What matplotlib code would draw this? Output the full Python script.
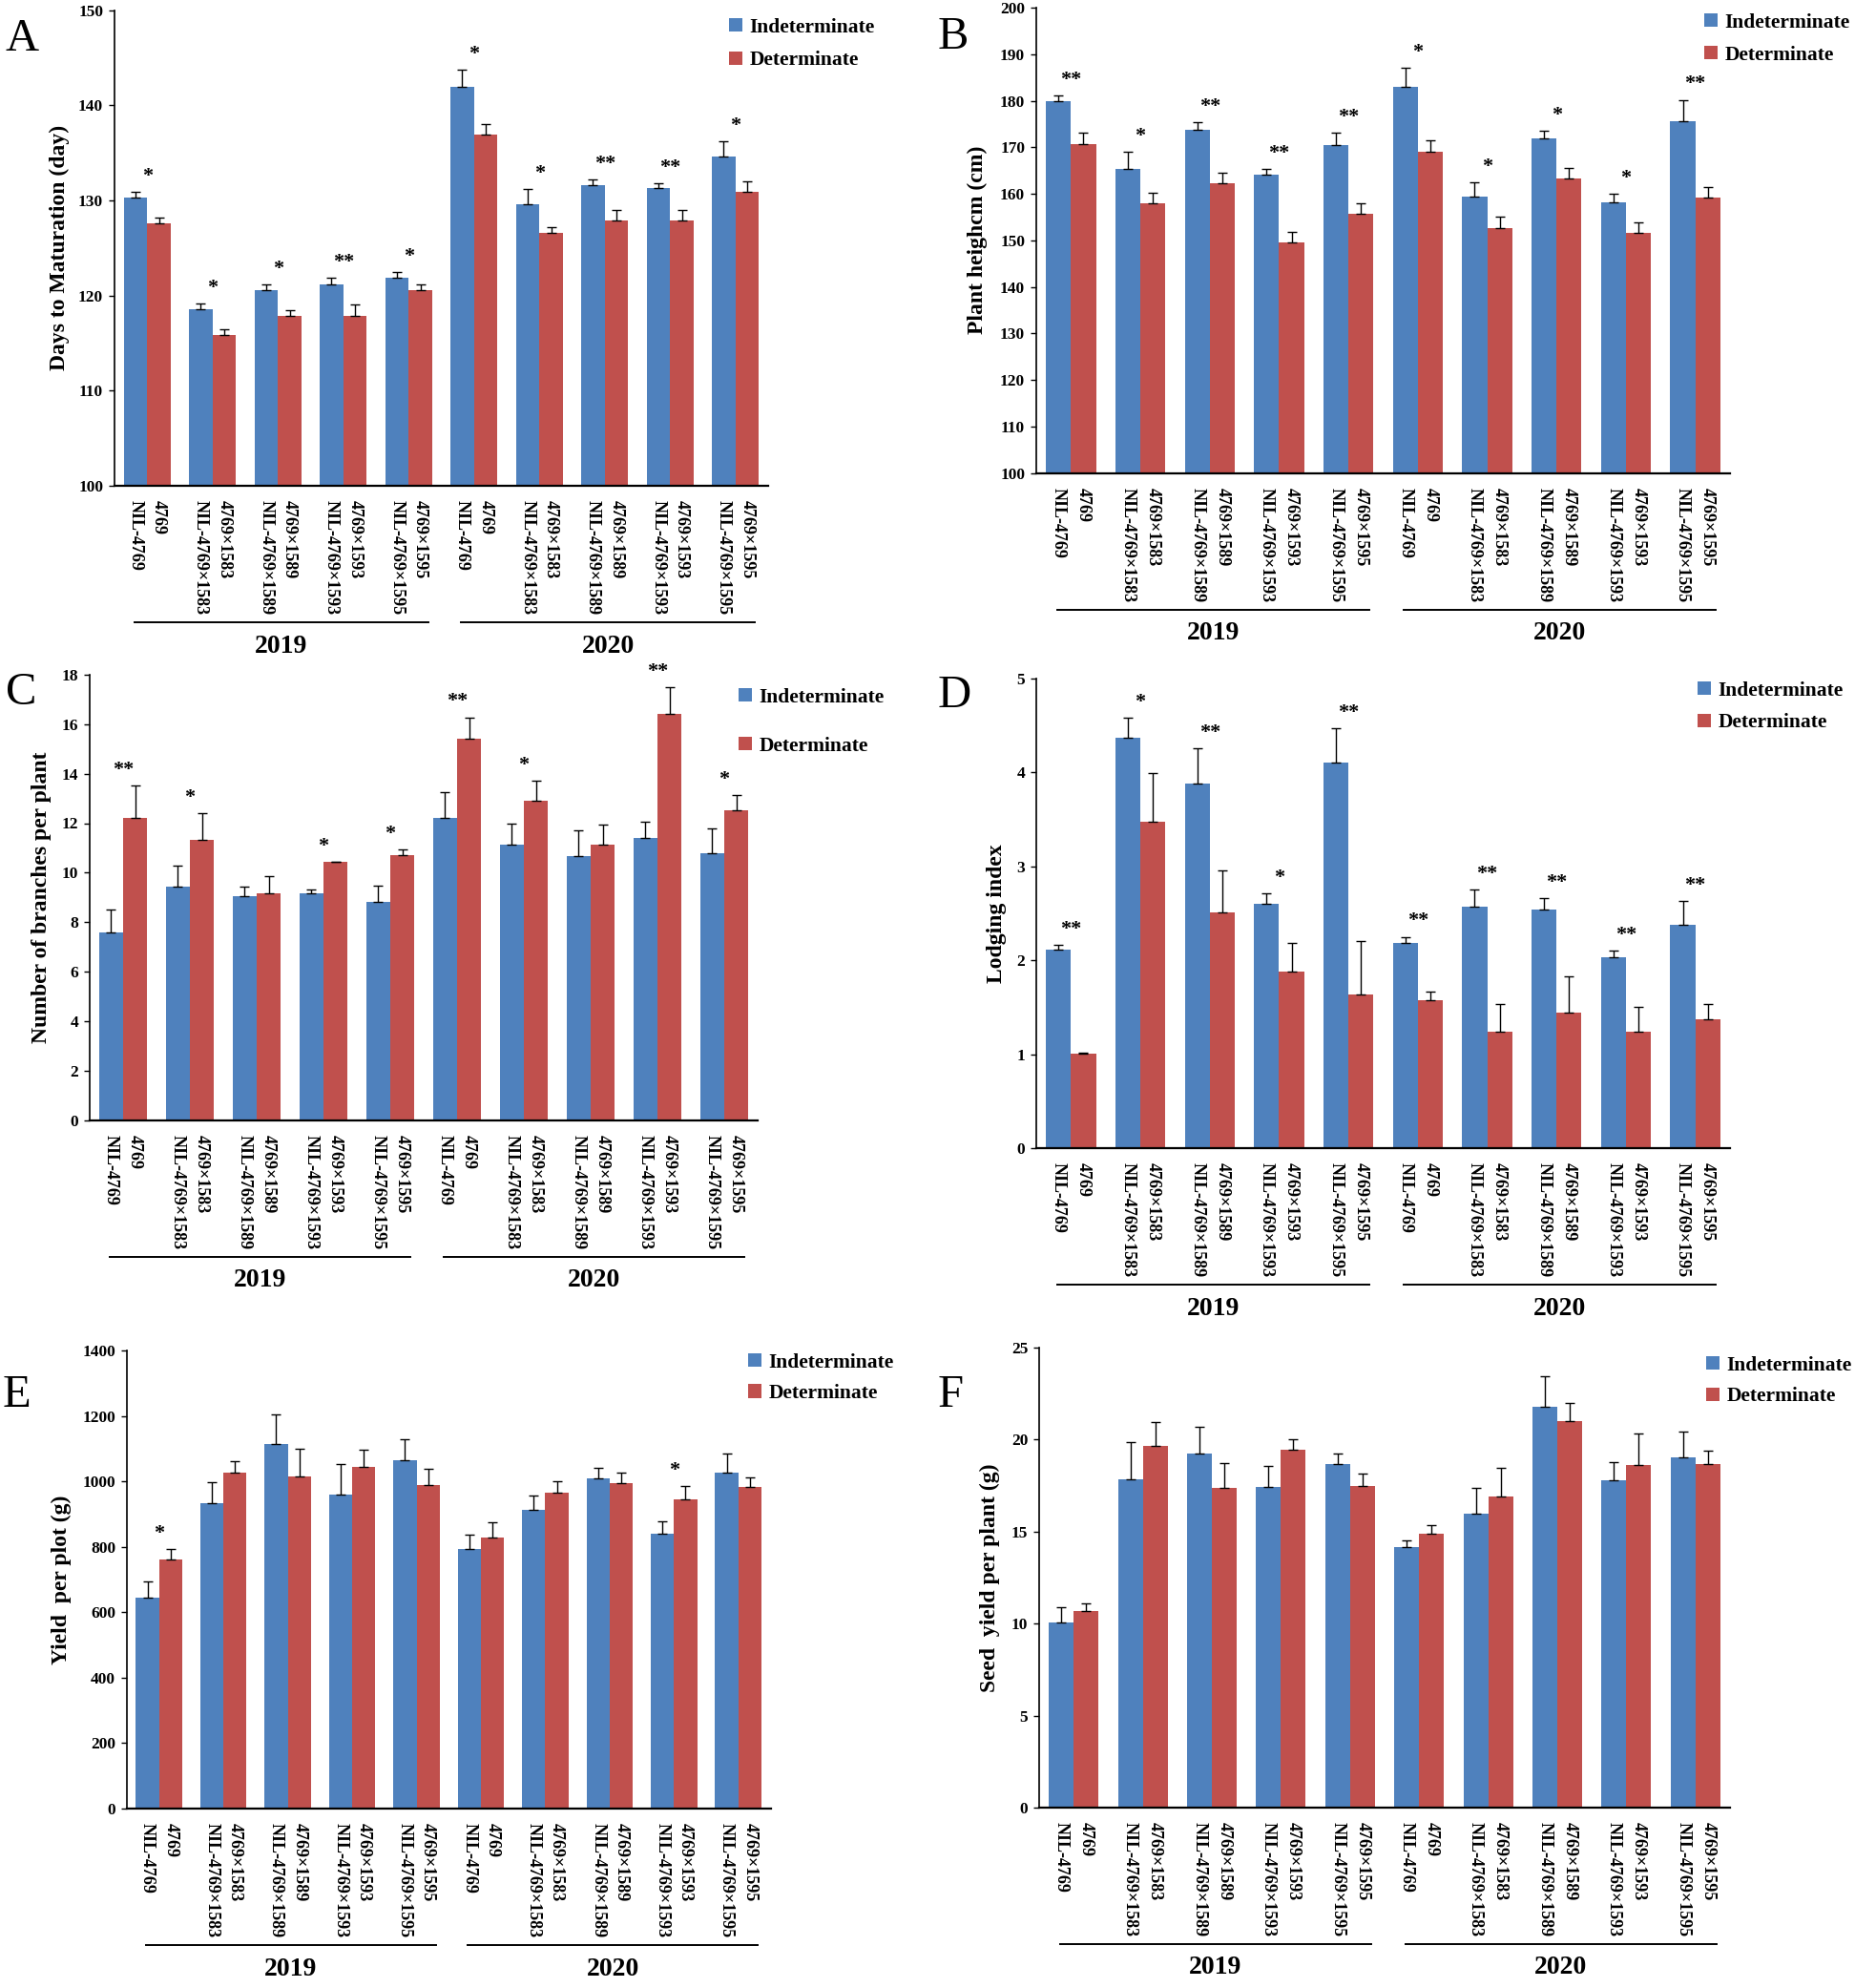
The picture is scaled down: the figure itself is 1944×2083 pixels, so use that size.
import matplotlib
matplotlib.use("Agg")
import matplotlib.pyplot as plt
import numpy as np
from matplotlib.patches import Patch
from matplotlib.transforms import blended_transform_factory

plt.rcParams['font.family'] = ['Liberation Serif', 'DejaVu Serif']
plt.rcParams['font.weight'] = 'bold'

# ---------------- data ----------------
years = ["2019", "2020"]
pair_labels = [("NIL-4769", "4769"),
               ("NIL-4769×1583", "4769×1583"),
               ("NIL-4769×1589", "4769×1589"),
               ("NIL-4769×1593", "4769×1593"),
               ("NIL-4769×1595", "4769×1595")]
series_names = ["Indeterminate", "Determinate"]

# A: Days to maturation
A_ind = [130.3, 118.6, 120.6, 121.2, 121.9, 141.95, 129.6, 131.6, 131.3, 134.6]
A_ind_err = [0.6, 0.6, 0.6, 0.7, 0.6, 1.75, 1.6, 0.6, 0.5, 1.6]
A_det = [127.6, 115.9, 117.9, 117.9, 120.6, 136.9, 126.6, 127.9, 127.9, 130.9]
A_det_err = [0.6, 0.6, 0.6, 1.2, 0.6, 1.1, 0.6, 1.1, 1.1, 1.1]
A_sig = ["*", "*", "*", "**", "*", "*", "*", "**", "**", "*"]

# B: Plant height
B_ind = [179.85, 165.3, 173.8, 164.1, 170.4, 183.0, 159.3, 171.8, 158.1, 175.5]
B_ind_err = [1.25, 3.8, 1.6, 1.3, 2.8, 4.0, 3.2, 1.7, 1.8, 4.7]
B_det = [170.7, 158.0, 162.2, 149.5, 155.6, 169.1, 152.7, 163.2, 151.6, 159.1]
B_det_err = [2.4, 2.3, 2.3, 2.2, 2.3, 2.3, 2.3, 2.3, 2.3, 2.3]
B_sig = ["**", "*", "**", "**", "**", "*", "*", "*", "*", "**"]

# C: Number of branches
C_ind = [7.58, 9.42, 9.04, 9.15, 8.82, 12.23, 11.13, 10.68, 11.40, 10.80]
C_ind_err = [0.91, 0.85, 0.40, 0.15, 0.67, 1.03, 0.86, 1.03, 0.66, 0.98]
C_det = [12.21, 11.32, 9.15, 10.44, 10.70, 15.41, 12.92, 11.13, 16.43, 12.54]
C_det_err = [1.31, 1.10, 0.72, 0.0, 0.22, 0.87, 0.79, 0.81, 1.05, 0.60]
C_sig = ["**", "*", "", "*", "*", "**", "*", "", "**", "*"]

# D: Lodging index
D_ind = [2.11, 4.37, 3.88, 2.60, 4.11, 2.18, 2.57, 2.54, 2.03, 2.38]
D_ind_err = [0.05, 0.21, 0.38, 0.11, 0.36, 0.07, 0.18, 0.12, 0.07, 0.25]
D_det = [1.01, 3.48, 2.51, 1.88, 1.64, 1.58, 1.24, 1.44, 1.24, 1.37]
D_det_err = [0.01, 0.51, 0.45, 0.31, 0.57, 0.09, 0.29, 0.39, 0.26, 0.16]
D_sig = ["**", "*", "**", "*", "**", "**", "**", "**", "**", "**"]

# E: Yield per plot
E_ind = [646, 933, 1115, 960, 1066, 794, 912, 1008, 839, 1028]
E_ind_err = [47, 64, 91, 92, 63, 43, 44, 33, 40, 56]
E_det = [760, 1028, 1014, 1043, 990, 827, 965, 994, 946, 982]
E_det_err = [32, 35, 87, 55, 49, 49, 36, 32, 39, 31]
E_sig = ["*", "", "", "", "", "", "", "", "*", ""]

# F: Seed yield per plant
F_ind = [10.04, 17.85, 19.23, 17.42, 18.65, 14.14, 15.99, 21.77, 17.80, 19.06]
F_ind_err = [0.87, 2.02, 1.48, 1.14, 0.58, 0.39, 1.38, 1.69, 0.99, 1.40]
F_det = [10.70, 19.66, 17.37, 19.43, 17.46, 14.89, 16.93, 20.99, 18.63, 18.68]
F_det_err = [0.41, 1.31, 1.37, 0.57, 0.69, 0.46, 1.54, 1.01, 1.70, 0.73]
F_sig = ["", "", "", "", "", "", "", "", "", ""]

# ---------------- style / layout ----------------
BLUE = "#4F81BD"
RED = "#C0504D"
W, H = 1944, 2083

panels = [
    dict(letter="A", ind=A_ind, ie=A_ind_err, det=A_det, de=A_det_err, sig=A_sig,
         ylabel="Days to Maturation (day)", ylim=(100, 150), yticks=np.arange(100, 151, 10),
         rect=(120, 10.7, 805, 509), ylx=62, leg=(764, 27), ls=0.67, let=(5, 53)),
    dict(letter="B", ind=B_ind, ie=B_ind_err, det=B_det, de=B_det_err, sig=B_sig,
         ylabel="Plant heighcm (cm)", ylim=(100, 200), yticks=np.arange(100, 201, 10),
         rect=(1086, 8, 1813, 495.5), ylx=1024, leg=(1786, 22), ls=0.64, let=(983, 51)),
    dict(letter="C", ind=C_ind, ie=C_ind_err, det=C_det, de=C_det_err, sig=C_sig,
         ylabel="Number of branches per plant", ylim=(0, 18), yticks=np.arange(0, 19, 2),
         rect=(94, 707, 794, 1173.5), ylx=44, leg=(774, 729), ls=1.42, let=(6, 738)),
    dict(letter="D", ind=D_ind, ie=D_ind_err, det=D_det, de=D_det_err, sig=D_sig,
         ylabel="Lodging index", ylim=(0, 5), yticks=np.arange(0, 6, 1),
         rect=(1086, 711, 1813, 1203), ylx=1044, leg=(1779, 722), ls=0.61, let=(983, 741)),
    dict(letter="E", ind=E_ind, ie=E_ind_err, det=E_det, de=E_det_err, sig=E_sig,
         ylabel="Yield  per plot (g)", ylim=(0, 1400), yticks=np.arange(0, 1401, 200),
         rect=(133, 1415, 807.5, 1895), ylx=64, leg=(784, 1426), ls=0.56, let=(3, 1474)),
    dict(letter="F", ind=F_ind, ie=F_ind_err, det=F_det, de=F_det_err, sig=F_sig,
         ylabel="Seed  yield per plant (g)", ylim=(0, 25), yticks=np.arange(0, 26, 5),
         rect=(1089, 1412, 1813, 1894), ylx=1037, leg=(1788, 1429), ls=0.58, let=(983, 1474)),
]

fig = plt.figure(figsize=(W / 100, H / 100), dpi=100)

tick_labels = [lab for _ in years for pair in pair_labels for lab in pair]
n = len(years) * len(pair_labels)
bw = 0.36
err_kw = dict(ecolor="black", elinewidth=1.0, capsize=3.5, capthick=1.0)

for p in panels:
    L, T, R, B = p["rect"]
    ax = fig.add_axes([L / W, 1 - B / H, (R - L) / W, (B - T) / H])
    hpx = B - T
    xc = np.arange(n) + 0.5
    ind = np.array(p["ind"]); ie = np.array(p["ie"])
    det = np.array(p["det"]); de = np.array(p["de"])
    ax.bar(xc - bw / 2, ind, bw, color=BLUE, yerr=[np.zeros(n), ie], error_kw=err_kw, zorder=2)
    ax.bar(xc + bw / 2, det, bw, color=RED, yerr=[np.zeros(n), de], error_kw=err_kw, zorder=2)
    ax.set_xlim(0, n)
    ax.set_ylim(*p["ylim"])
    ax.set_yticks(p["yticks"])
    ax.set_yticklabels([str(int(v)) for v in p["yticks"]])
    pos = np.ravel(np.column_stack([xc - bw / 2, xc + bw / 2]))
    ax.set_xticks(pos)
    ax.set_xticklabels(tick_labels, rotation=-90, ha="center", va="top",
                       fontweight="bold")
    ax.tick_params(axis="x", length=0, pad=11, labelsize=13)
    ax.tick_params(axis="y", direction="out", length=4.5, width=1.0, pad=4, labelsize=12.5)
    for s in ("top", "right"):
        ax.spines[s].set_visible(False)
    ax.spines["left"].set_linewidth(1.2)
    ax.spines["bottom"].set_linewidth(1.6)

    ax.set_ylabel(p["ylabel"], fontsize=17, fontweight="bold")
    ax.yaxis.label.set_va("center")
    ax.yaxis.set_label_coords((p["ylx"] - L) / (R - L), 0.5)

    # significance marks
    for i, s in enumerate(p["sig"]):
        if s:
            top = max(ind[i] + ie[i], det[i] + de[i])
            ax.annotate(s, (xc[i], top), xytext=(0, 8), textcoords="offset points",
                        ha="center", va="baseline", fontsize=16, fontweight="bold")

    # year brackets
    trans = blended_transform_factory(ax.transData, ax.transAxes)
    yl = -143 / hpx
    yt = -168 / hpx
    spans = [(0.3, 4.8), (5.3, 9.8)]
    for (x0, x1), yr in zip(spans, years):
        ax.plot([x0, x1], [yl, yl], transform=trans, clip_on=False, color="black", lw=1.4)
        ax.text((x0 + x1) / 2, yt, yr, transform=trans, ha="center", va="center",
                fontsize=20, fontweight="bold")

    # legend
    lx, lyc = p["leg"]
    handles = [Patch(facecolor=BLUE), Patch(facecolor=RED)]
    ax.legend(handles, series_names, loc="upper left",
              bbox_to_anchor=(lx / W, 1 - (lyc - 8) / H), bbox_transform=fig.transFigure,
              frameon=False, prop=dict(size=15.5, weight="bold"),
              handlelength=0.63, handleheight=0.63, handletextpad=0.37,
              labelspacing=p["ls"], borderpad=0, borderaxespad=0)

    # panel letter
    fx, fy = p["let"]
    fig.text(fx / W, 1 - fy / H, p["letter"], fontsize=35, fontweight="normal",
             ha="left", va="baseline")

fig.savefig("out.png", dpi=100)
